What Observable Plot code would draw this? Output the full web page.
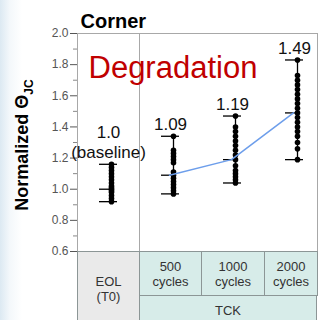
<!DOCTYPE html>
<html><head><meta charset="utf-8">
<script src="https://cdn.jsdelivr.net/npm/d3@7"></script>
<script src="https://cdn.jsdelivr.net/npm/@observablehq/plot@0.6"></script>
<style>
html,body{margin:0;padding:0;}
body{width:328px;height:320px;overflow:hidden;font-family:Arial,"Liberation Sans",sans-serif;
 background:linear-gradient(90deg,#dce9f2 0px,#f4f8fb 10px,#ffffff 22px);}
#wrap{position:relative;width:328px;height:320px;}
#chart{position:absolute;left:0;top:0;}
#table{position:absolute;left:77px;top:251px;width:240px;height:69px;font-size:13px;color:#333;}
.cell{position:absolute;box-sizing:border-box;border:1px solid #8c9696;display:flex;align-items:center;justify-content:center;text-align:center;line-height:15px;white-space:pre;}
</style></head>
<body><div id="wrap"><div id="chart"></div><div id="table"></div></div>
<script>
const categories = ["EOL", "500", "1000", "2000"];
const eolValues  = [0.92, 0.94, 0.96, 0.98, 0.99, 1.0, 1.01, 1.02, 1.04, 1.06, 1.08, 1.1, 1.12, 1.14, 1.16];
const c500Values = [0.97, 0.99, 1.01, 1.03, 1.05, 1.07, 1.09, 1.11, 1.17, 1.19, 1.21, 1.23, 1.25, 1.34];
const c1000Values = [1.04, 1.06, 1.08, 1.1, 1.12, 1.15, 1.19, 1.22, 1.25, 1.28, 1.31, 1.34, 1.37, 1.4, 1.47];
const c2000Values = [1.19, 1.26, 1.3, 1.34, 1.37, 1.4, 1.43, 1.46, 1.49, 1.52, 1.55, 1.58, 1.61, 1.64, 1.67, 1.7, 1.73, 1.83];
const meanValues = [1.0, 1.09, 1.19, 1.49];
const meanLabels = ["1.0\n(baseline)", "1.09", "1.19", "1.49"];
const headerLabels = ["EOL\n(T0)", "500\ncycles", "1000\ncycles", "2000\ncycles"];
const groupLabel = "TCK";
const yTicks = [0.6, 0.8, 1.0, 1.2, 1.4, 1.6, 1.8, 2.0];
const yMinorTicks = [0.7, 0.9, 1.1, 1.3, 1.5, 1.7, 1.9];
const title = "Corner";
const annotation = "Degradation";

const series = [eolValues, c500Values, c1000Values, c2000Values];
const points = categories.flatMap((c, i) => series[i].map(v => ({cat: c, v})));
const stats = categories.map((c, i) => ({
  cat: c, min: d3.min(series[i]), max: d3.max(series[i]), mean: meanValues[i], label: meanLabels[i]
}));

const plot = Plot.plot({
  width: 328, height: 252,
  marginLeft: 77, marginRight: 11, marginTop: 33, marginBottom: 1,
  style: {fontFamily: "Arial, 'Liberation Sans', sans-serif", background: "transparent", overflow: "visible"},
  x: {type: "point", domain: categories, range: [111, 297], padding: 0, axis: null},
  y: {domain: [0.6, 2.0], axis: null},
  marks: [
    Plot.frame({stroke: "#a8a8a8", fill: "white"}),
    Plot.ruleX(["EOL"], {dx: 28, stroke: "#a8a8a8"}),
    Plot.axisY(yTicks, {tickSize: 7, tickPadding: 2, tickFormat: d => d.toFixed(1), fontSize: 12, color: "#555"}),
    Plot.axisY(yMinorTicks, {tickSize: 4, tickFormat: () => "", color: "#888"}),
    Plot.ruleX(stats, {x: "cat", y1: "min", y2: "max", stroke: "black", strokeWidth: 1.3}),
    Plot.ruleY(stats, {y: "max", x1: "cat", x2: "cat", insetLeft: -12, insetRight: -6, stroke: "black", strokeWidth: 1.3}),
    Plot.ruleY(stats, {y: "min", x1: "cat", x2: "cat", insetLeft: -12, insetRight: -6, stroke: "black", strokeWidth: 1.3}),
    Plot.ruleY(stats, {y: "mean", x1: "cat", x2: "cat", insetLeft: -12, insetRight: 0, stroke: "black", strokeWidth: 1.3}),
    Plot.dot(points, {x: "cat", y: "v", r: 2.8, fill: "black", stroke: "none"}),
    Plot.line(stats.slice(1), {x: "cat", y: "mean", stroke: "#6d9eeb", strokeWidth: 1.5, dx: -4}),
    Plot.text(stats, {x: "cat", y: "max", text: "label", dx: -3, dy: -6, lineAnchor: "bottom", fontSize: 17, fill: "#111", lineHeight: 1.2}),
    Plot.text([annotation], {frameAnchor: "top-left", dx: 11, dy: 22, lineAnchor: "top", textAnchor: "start", fontSize: 31, fill: "#c00000"}),
    Plot.text([title], {frameAnchor: "top-left", dx: 3, dy: -6, lineAnchor: "bottom", textAnchor: "start", fontSize: 20, fontWeight: "bold", fill: "black"})
  ]
});
document.getElementById("chart").appendChild(plot);

// y-axis title with subscript
const svg = d3.select(plot);
const t = svg.append("text")
  .attr("transform", "translate(28,145) rotate(-90)")
  .attr("text-anchor", "middle")
  .attr("font-family", "Arial, 'Liberation Sans', sans-serif")
  .attr("font-weight", "bold")
  .attr("font-size", 18)
  .attr("fill", "black");
t.append("tspan").text("Normalized Θ");
t.append("tspan").attr("font-size", 12).attr("dy", 5).text("JC");

// category table below the plot
const table = document.getElementById("table");
const cols = [[0, 62], [62, 62], [124, 63], [187, 53]];
function cell(left, top, w, h, text, bg) {
  const d = document.createElement("div");
  d.className = "cell";
  Object.assign(d.style, {left: left + "px", top: top + "px", width: w + "px", height: h + "px", background: bg});
  d.textContent = text;
  table.appendChild(d);
}
cell(cols[0][0], 0, cols[0][1] + 1, 75, headerLabels[0], "#eaeaea");
for (let i = 1; i < 4; i++) cell(cols[i][0], 0, cols[i][1] + 1, 45, headerLabels[i], "#d7ece9");
cell(62, 44, 178, 31, groupLabel, "#d7ece9");
</script></body></html>
